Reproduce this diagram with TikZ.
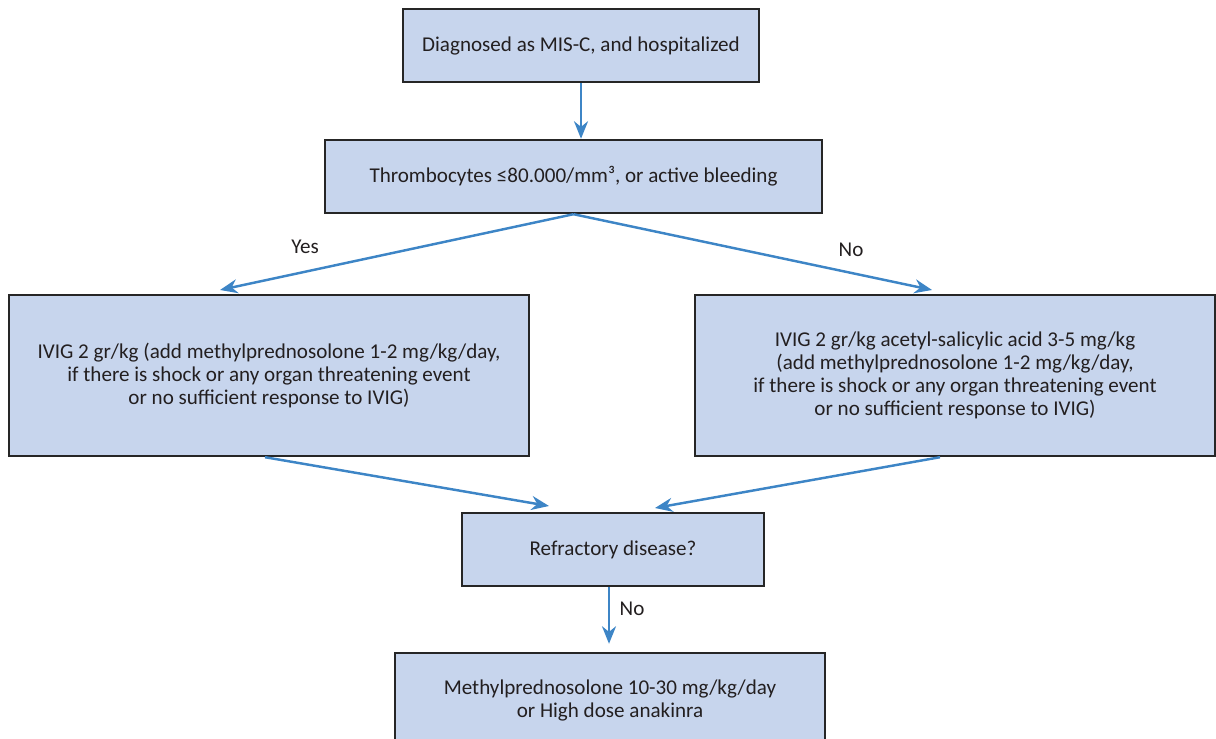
\documentclass[tikz,border=0pt]{standalone}
\usepackage{fontspec}
\setmainfont{Carlito}
\usetikzlibrary{arrows.meta,positioning}
\definecolor{boxblue}{RGB}{199,213,237}
\definecolor{arrowblue}{RGB}{61,133,198}
\definecolor{textdark}{RGB}{35,31,32}

\begin{document}
\begin{tikzpicture}[x=0.02cm,y=-0.02cm,
  stepbox/.style={draw=black!85,line width=1.4pt,fill=boxblue,align=center,inner sep=0pt,
    font=\fontsize{12}{13.2}\selectfont,text=textdark},
  flow/.style={-{Stealth[length=10pt,width=8pt]},arrowblue,line width=1.4pt},
  lbl/.style={font=\fontsize{12}{13.2}\selectfont,text=textdark}]
  \useasboundingbox (0,0) rectangle (1216,739);
  % Boxes
  \node[stepbox,minimum width=7.12cm,minimum height=1.46cm] (diag) at (581,45.5) {Diagnosed as MIS-C, and hospitalized};
  \node[stepbox,minimum width=9.94cm,minimum height=1.46cm] (thr) at (573.5,176.5) {Thrombocytes ≤80.000/mm³, or active bleeding};
  \node[stepbox,minimum width=10.4cm,minimum height=3.22cm] (ivigl) at (269,375.5)
    {IVIG 2 gr/kg (add methylprednosolone 1-2 mg/kg/day,\\ if there is shock or any organ threatening event\\ or no sufficient response to IVIG)};
  \node[stepbox,minimum width=10.4cm,minimum height=3.22cm] (ivigr) at (955,375.5)
    {IVIG 2 gr/kg acetyl-salicylic acid 3-5 mg/kg\\ (add methylprednosolone 1-2 mg/kg/day,\\ if there is shock or any organ threatening event\\ or no sufficient response to IVIG)};
  \node[stepbox,minimum width=6.04cm,minimum height=1.46cm] (refr) at (613,549.5) {Refractory disease?};
  \node[stepbox,minimum width=8.6cm,minimum height=1.9cm] (final) at (610,700.5)
    {Methylprednosolone 10-30 mg/kg/day\\ or High dose anakinra};
  % Arrow ends
  \coordinate (yesend) at (220,290);
  \coordinate (noend) at (932,290);
  \coordinate (refrl) at (549,506);
  \coordinate (refrr) at (655,508);
  % Arrows
  \draw[flow] (diag.south) -- (diag.south |- thr.north);
  \draw[flow] (thr.south) -- (yesend);
  \draw[flow] (thr.south) -- (noend);
  \draw[flow] ([xshift=-0.08cm]ivigl.south) -- (refrl);
  \draw[flow] ([xshift=-0.3cm]ivigr.south) -- (refrr);
  \draw[flow,shorten >=0.16cm] ([xshift=-0.08cm]refr.south) -- ([xshift=-0.08cm]refr.south |- final.north);
  % Labels
  \node[lbl] (yes) at (305,247) {Yes};
  \node[lbl] (no1) at (851,250) {No};
  \node[lbl] (no2) at (632,609) {No};
\end{tikzpicture}
\end{document}
